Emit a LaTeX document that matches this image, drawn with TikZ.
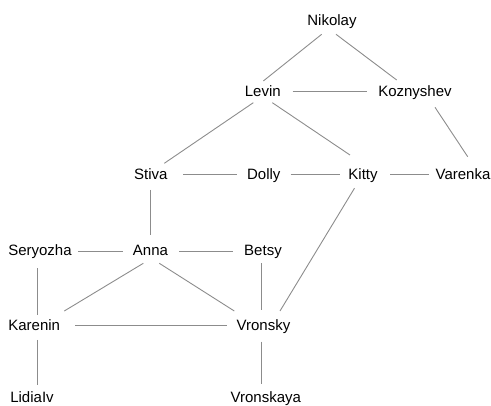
\documentclass[tikz,border=0pt]{standalone}
\usepackage{fontspec}
\setmainfont{Liberation Sans}
\usetikzlibrary{calc}
\definecolor{linegray}{RGB}{140,140,140}
\tikzset{
  person/.style={anchor=base, inner sep=0pt, font=\fontsize{15}{18}\selectfont},
  tie/.style={draw=linegray, line width=0.9pt},
}
% a link between two people: node, offset from its base point, node, offset
\newcommand\link[4]{\draw[tie] ($(#1.base)+(#2)$) -- ($(#3.base)+(#4)$);}
\begin{document}
\begin{tikzpicture}[x=1pt,y=-1pt]
\useasboundingbox (0,0) rectangle (491,406);

% people, placed by their baselines
\node[person] (nik) at (332,25.7) {Nikolay};
\node[person] (lev) at (262.8,97) {Levin};
\node[person] (koz) at (415,97) {Koznyshev};
\node[person] (sti) at (150.8,180) {Stiva};
\node[person] (dol) at (263.8,179.5) {Dolly};
\node[person] (kit) at (363,179.5) {Kitty};
\node[person] (var) at (463,179.5) {Varenka};
\node[person] (ser) at (40,255.5) {Seryozha};
\node[person] (ann) at (150.5,255.5) {Anna};
\node[person] (bet) at (263,255.5) {Betsy};
\node[person] (kar) at (34.2,331) {Karenin};
\node[person] (vro) at (263.5,331) {Vronsky};
\node[person] (lid) at (32,403) {LidiaIv};
\node[person] (vra) at (265.8,402.5) {Vronskaya};

% relations
\link{nik}{-10.3,8.6}{lev}{0.5,-16}
\link{nik}{4,8.6}{koz}{-18.3,-17}
\link{lev}{29.9,-5.3}{koz}{-48.3,-5.3}
\link{lev}{-9.5,5.7}{sti}{13.5,-16.7}
\link{lev}{9.5,5.7}{kit}{-13,-24.5}
\link{koz}{20,10.3}{var}{4.7,-22.8}
\link{sti}{32.5,-6}{dol}{-27.1,-5.5}
\link{dol}{26.9,-5.5}{kit}{-23,-5.5}
\link{kit}{27,-5.5}{var}{-34,-5.5}
\link{kit}{-8.5,8.7}{vro}{16.5,-20}
\link{sti}{-0.1,10}{ann}{0.2,-20.5}
\link{ser}{38.3,-4.5}{ann}{-27.2,-4.5}
\link{ann}{28.8,-4.5}{bet}{-29.7,-4.5}
\link{ann}{-7.2,7.8}{kar}{30.1,-20}
\link{ann}{8.8,7.8}{vro}{-29.2,-20}
\link{bet}{-2,7.8}{vro}{-2.5,-21}
\link{ser}{-2.7,12.8}{kar}{3.1,-16}
\link{kar}{40.8,-6}{vro}{-36.8,-6}
\link{kar}{3.1,9}{lid}{5.3,-18}
\link{vro}{-2.5,10.7}{vra}{-4.8,-18.5}
\end{tikzpicture}
\end{document}
